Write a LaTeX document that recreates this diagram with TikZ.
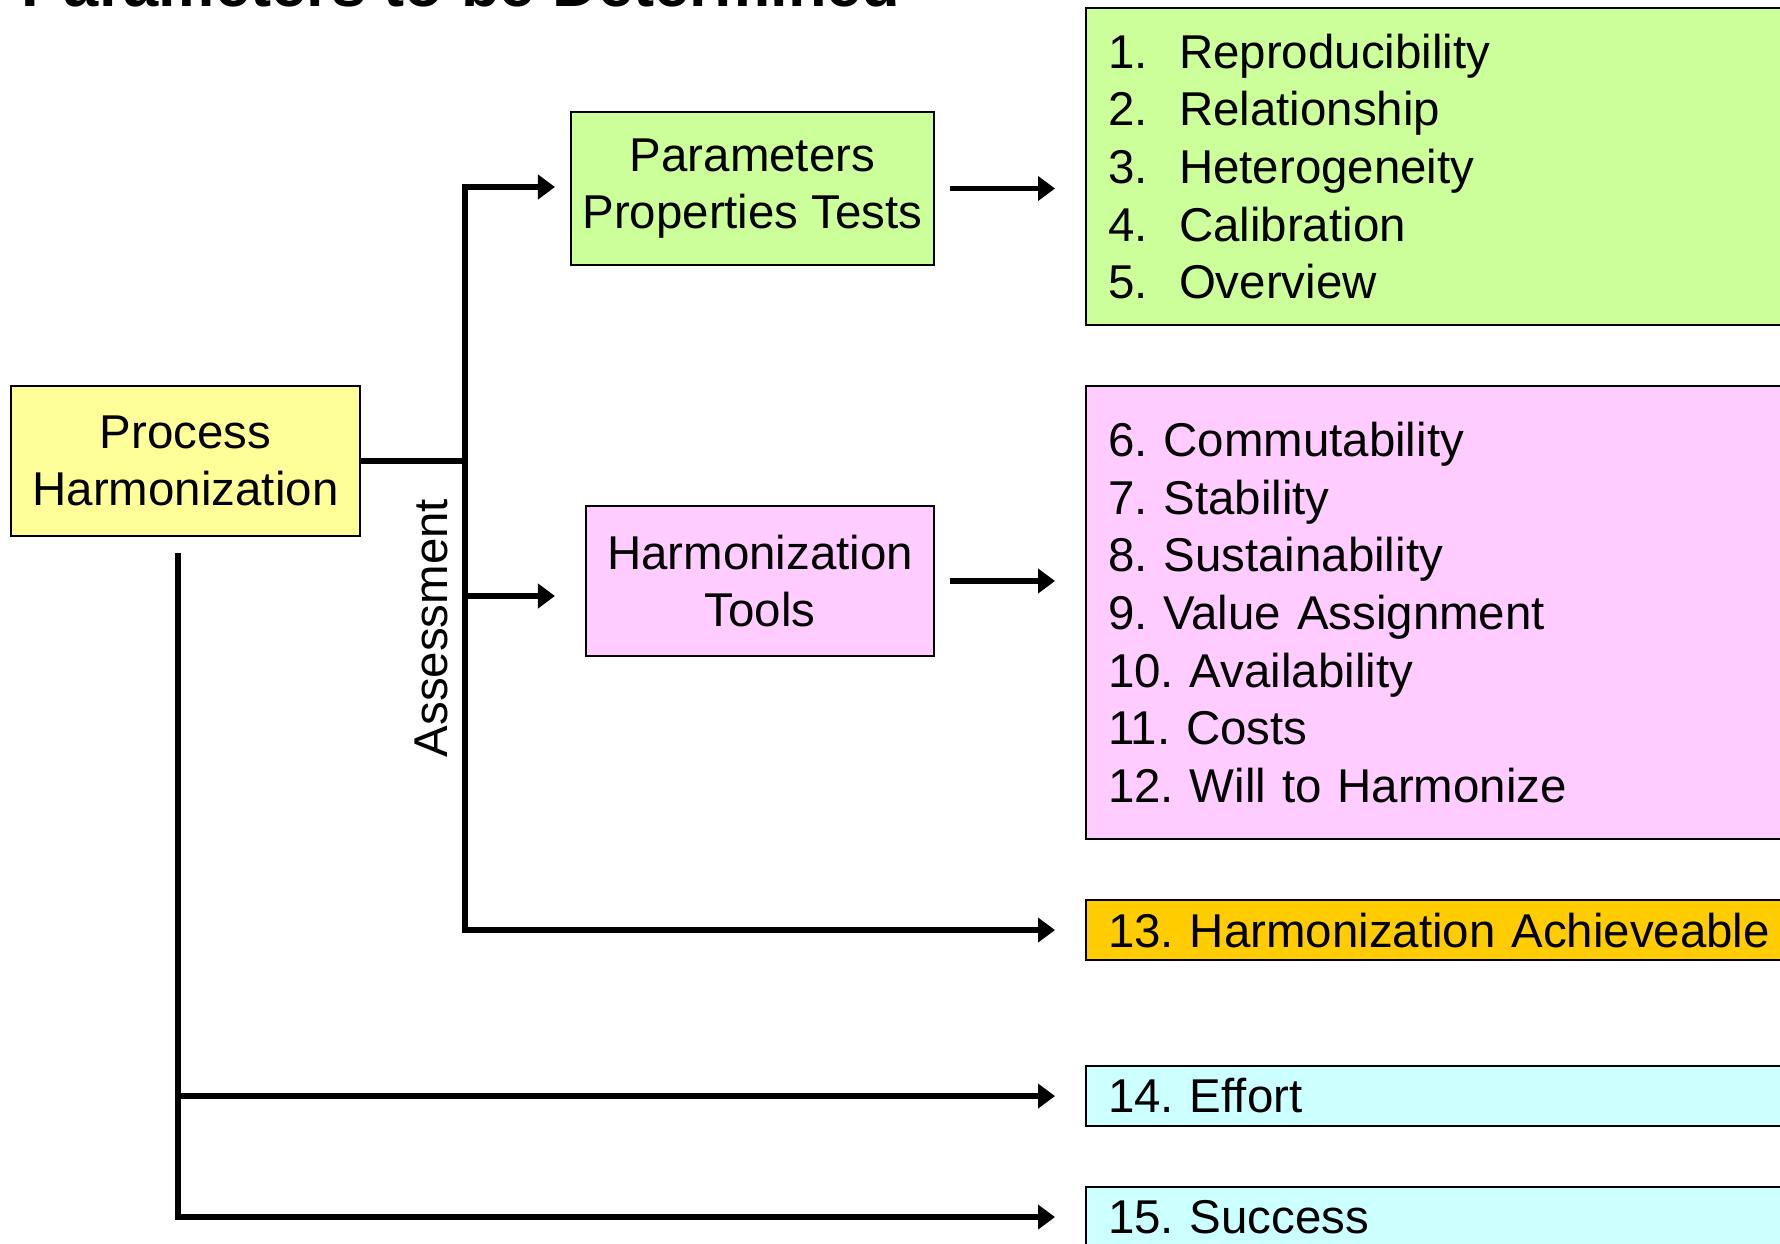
\documentclass[tikz,border=0pt]{standalone}
\usepackage{fontspec}
\setmainfont{Liberation Sans}
\usetikzlibrary{arrows.meta}

\definecolor{procyellow}{HTML}{FFFF99}
\definecolor{paramgreen}{HTML}{CCFF99}
\definecolor{toolpink}{HTML}{FFCCFF}
\definecolor{achieveorange}{HTML}{FFCC00}
\definecolor{resultcyan}{HTML}{CCFFFF}

\newcommand{\lstitem}[2]{\makebox[0.71cm][l]{#1}#2}
\frenchspacing

\begin{document}
\begin{tikzpicture}[
  box/.style={rectangle, draw, line width=0.6pt, font=\fontsize{13.5}{16.4}\selectfont, align=center, inner sep=0pt},
  listbox/.style={box, anchor=north west, align=left, text width=7.0cm, inner xsep=0.22cm, inner ysep=0pt},
  link/.style={line width=1.6pt},
  arr/.style={line width=1.6pt, -{Triangle[length=0.17cm,width=0.24cm]}}
]
\useasboundingbox (0,0) rectangle (17.80,-12.44);
\clip (0,0) rectangle (17.80,-12.44);

% Title (cut at the top edge)
\node[anchor=base west, inner sep=0pt, font=\fontsize{18}{22}\selectfont\bfseries] (title) at (0.21,-0.07) {Parameters to be Determined};

% Boxes on the left
\node[box, fill=procyellow, minimum width=3.49cm, minimum height=1.50cm] (proc) at (1.855,-4.61) {Process\\Harmonization};
\node[box, fill=paramgreen, minimum width=3.63cm, minimum height=1.53cm] (params) at (7.525,-1.885) {Parameters\\Properties Tests};
\node[box, fill=toolpink, minimum width=3.48cm, minimum height=1.50cm] (tools) at (7.60,-5.81) {Harmonization\\Tools};

% Boxes on the right
\node[listbox, fill=paramgreen, minimum height=3.17cm] (plist) at (10.85,-0.07) {%
  \lstitem{1.}{Reproducibility}\\
  \lstitem{2.}{Relationship}\\
  \lstitem{3.}{Heterogeneity}\\
  \lstitem{4.}{Calibration}\\
  \lstitem{5.}{Overview}};
\node[listbox, fill=toolpink, minimum height=4.53cm] (tlist) at (10.85,-3.85) {%
  6. Commutability\\
  7. Stability\\
  8. Sustainability\\
  9. Value Assignment\\
  10. Availability\\
  11. Costs\\
  12. Will to Harmonize};
\node[listbox, fill=achieveorange, minimum height=0.60cm] (achieve) at (10.85,-8.99) {13. Harmonization Achieveable};
\node[listbox, fill=resultcyan, minimum height=0.60cm] (effort) at (10.85,-10.65) {14. Effort};
\node[listbox, fill=resultcyan, minimum height=0.60cm] (success) at (10.85,-11.86) {15. Success};

% Junctions
\coordinate (jtop) at (4.65,-1.87);
\coordinate (jbot) at (4.65,-9.29);
\coordinate (jmid) at (4.65,-5.96);
\coordinate (ltop) at (1.78,-5.53);

% Assessment branch
\draw[link] (proc.east) -- (proc.east -| jtop);
\draw[arr, shorten >=0.15cm] (jbot) |- (jtop -| params.west);
\draw[arr, shorten >=0.3cm] (jtop) |- (achieve.west);
\draw[arr, shorten >=0.3cm] (jmid) -- (jmid -| tools.west);
\node[rotate=90, font=\fontsize{13.5}{16.4}\selectfont, inner sep=0pt] (assess) at (4.31,-6.28) {Assessment};

% Arrows to the lists
\draw[arr, shorten <=0.15cm, shorten >=0.3cm] (params.east) -- (params.east -| plist.west);
\draw[arr, shorten <=0.15cm, shorten >=0.3cm] (tools.east) -- (tools.east -| tlist.west);

% Effort and success
\draw[arr, shorten >=0.3cm] (ltop) |- (success.west);
\draw[arr, shorten >=0.3cm] (ltop |- effort.west) -- (effort.west);

\end{tikzpicture}
\end{document}
